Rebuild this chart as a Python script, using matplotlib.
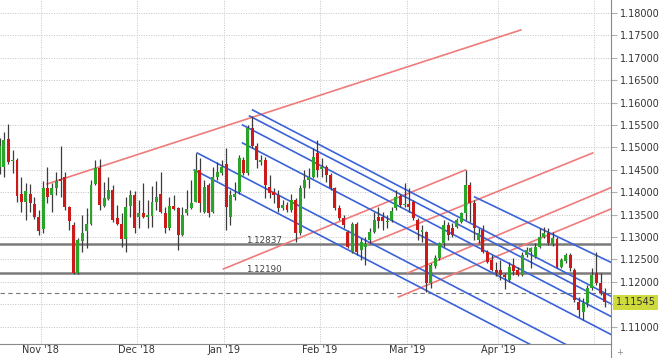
"""
EUR/USD daily candles with hand drawn trend channels
"""

import numpy as np
import pandas as pd
import matplotlib
matplotlib.use('Agg')
import matplotlib.pyplot as plt
import matplotlib.transforms as mtransforms
from matplotlib.lines import Line2D

# trading days shown on the chart (christmas and new year skipped)
days = pd.bdate_range('2018-10-18', '2019-05-03')
days = days[~days.isin(pd.to_datetime(['2018-12-25', '2019-01-01']))]

opens = [1.1457, 1.1457, 1.1518, 1.1470, 1.1472, 1.1397, 1.1377, 1.1397, 1.1374, 1.1345,
         1.1317, 1.1409, 1.1394, 1.1410, 1.1429, 1.1433, 1.1367, 1.1326, 1.1219, 1.1292,
         1.1314, 1.1330, 1.1418, 1.1453, 1.1369, 1.1384, 1.1405, 1.1342, 1.1329, 1.1295,
         1.1369, 1.1394, 1.1345, 1.1354, 1.1344, 1.1347, 1.1379, 1.1396, 1.1353, 1.1319,
         1.1369, 1.1364, 1.1304, 1.1353, 1.1364, 1.1379, 1.1450, 1.1356, 1.1416, 1.1356,
         1.1433, 1.1442, 1.1462, 1.1345, 1.1390, 1.1401, 1.1472, 1.1442, 1.1543, 1.1502,
         1.1468, 1.1472, 1.1412, 1.1401, 1.1394, 1.1364, 1.1371, 1.1360, 1.1383, 1.1308,
         1.1409, 1.1427, 1.1435, 1.1487, 1.1451, 1.1457, 1.1438, 1.1409, 1.1364, 1.1342,
         1.1312, 1.1267, 1.1330, 1.1271, 1.1278, 1.1293, 1.1312, 1.1344, 1.1344, 1.1334,
         1.1338, 1.1364, 1.1392, 1.1371, 1.1374, 1.1379, 1.1339, 1.1311, 1.1312, 1.1197,
         1.1236, 1.1253, 1.1286, 1.1327, 1.1320, 1.1323, 1.1334, 1.1353, 1.1416, 1.1375,
         1.1293, 1.1316, 1.1267, 1.1249, 1.1226, 1.1226, 1.1215, 1.1204, 1.1238, 1.1226,
         1.1215, 1.1260, 1.1267, 1.1256, 1.1278, 1.1301, 1.1308, 1.1284, 1.1295, 1.1234,
         1.1247, 1.1260, 1.1226, 1.1155, 1.1133, 1.1152, 1.1185, 1.1219, 1.1197, 1.1174]
highs = [1.1520, 1.1535, 1.1552, 1.1494, 1.1476, 1.1433, 1.1420, 1.1418, 1.1390, 1.1360,
         1.1425, 1.1457, 1.1420, 1.1446, 1.1502, 1.1446, 1.1369, 1.1334, 1.1297, 1.1349,
         1.1364, 1.1427, 1.1472, 1.1473, 1.1423, 1.1433, 1.1416, 1.1371, 1.1353, 1.1390,
         1.1405, 1.1403, 1.1383, 1.1420, 1.1383, 1.1414, 1.1425, 1.1446, 1.1367, 1.1390,
         1.1394, 1.1366, 1.1367, 1.1405, 1.1427, 1.1487, 1.1476, 1.1427, 1.1420, 1.1457,
         1.1468, 1.1472, 1.1498, 1.1405, 1.1423, 1.1483, 1.1479, 1.1550, 1.1569, 1.1509,
         1.1483, 1.1479, 1.1438, 1.1409, 1.1405, 1.1383, 1.1379, 1.1397, 1.1386, 1.1416,
         1.1450, 1.1453, 1.1498, 1.1517, 1.1476, 1.1461, 1.1442, 1.1412, 1.1371, 1.1349,
         1.1316, 1.1334, 1.1334, 1.1297, 1.1301, 1.1319, 1.1356, 1.1367, 1.1356, 1.1349,
         1.1367, 1.1405, 1.1397, 1.1420, 1.1409, 1.1383, 1.1342, 1.1327, 1.1314, 1.1241,
         1.1260, 1.1289, 1.1338, 1.1334, 1.1331, 1.1342, 1.1356, 1.1450, 1.1423, 1.1383,
         1.1319, 1.1327, 1.1271, 1.1260, 1.1245, 1.1249, 1.1219, 1.1245, 1.1252, 1.1234,
         1.1267, 1.1278, 1.1278, 1.1286, 1.1319, 1.1323, 1.1319, 1.1312, 1.1299, 1.1252,
         1.1264, 1.1264, 1.1230, 1.1167, 1.1163, 1.1193, 1.1230, 1.1267, 1.1219, 1.1185]
lows = [1.1440, 1.1435, 1.1464, 1.1442, 1.1379, 1.1356, 1.1338, 1.1356, 1.1340, 1.1304,
        1.1308, 1.1375, 1.1356, 1.1394, 1.1390, 1.1360, 1.1316, 1.1217, 1.1217, 1.1267,
        1.1275, 1.1327, 1.1416, 1.1360, 1.1367, 1.1383, 1.1334, 1.1327, 1.1278, 1.1267,
        1.1345, 1.1308, 1.1319, 1.1342, 1.1319, 1.1323, 1.1360, 1.1353, 1.1308, 1.1316,
        1.1360, 1.1271, 1.1302, 1.1349, 1.1363, 1.1378, 1.1356, 1.1353, 1.1344, 1.1353,
        1.1427, 1.1438, 1.1316, 1.1327, 1.1383, 1.1397, 1.1438, 1.1438, 1.1498, 1.1453,
        1.1461, 1.1386, 1.1386, 1.1375, 1.1356, 1.1360, 1.1356, 1.1356, 1.1289, 1.1304,
        1.1386, 1.1409, 1.1431, 1.1435, 1.1435, 1.1423, 1.1405, 1.1360, 1.1338, 1.1319,
        1.1275, 1.1264, 1.1260, 1.1249, 1.1238, 1.1286, 1.1308, 1.1319, 1.1316, 1.1319,
        1.1334, 1.1360, 1.1367, 1.1367, 1.1356, 1.1338, 1.1293, 1.1289, 1.1178, 1.1186,
        1.1230, 1.1249, 1.1278, 1.1293, 1.1301, 1.1319, 1.1331, 1.1338, 1.1334, 1.1293,
        1.1286, 1.1264, 1.1241, 1.1223, 1.1212, 1.1204, 1.1183, 1.1200, 1.1215, 1.1212,
        1.1212, 1.1256, 1.1230, 1.1252, 1.1275, 1.1297, 1.1282, 1.1280, 1.1230, 1.1230,
        1.1241, 1.1223, 1.1155, 1.1122, 1.1115, 1.1144, 1.1182, 1.1193, 1.1170, 1.1144]
closes = [1.1502, 1.1517, 1.1468, 1.1472, 1.1392, 1.1377, 1.1403, 1.1375, 1.1345, 1.1314,
          1.1410, 1.1390, 1.1409, 1.1425, 1.1424, 1.1366, 1.1336, 1.1219, 1.1293, 1.1308,
          1.1330, 1.1416, 1.1453, 1.1371, 1.1386, 1.1405, 1.1338, 1.1329, 1.1295, 1.1367,
          1.1394, 1.1319, 1.1354, 1.1345, 1.1349, 1.1379, 1.1389, 1.1356, 1.1319, 1.1369,
          1.1362, 1.1304, 1.1349, 1.1362, 1.1375, 1.1450, 1.1375, 1.1411, 1.1353, 1.1433,
          1.1446, 1.1457, 1.1367, 1.1394, 1.1397, 1.1476, 1.1442, 1.1543, 1.1502, 1.1472,
          1.1472, 1.1416, 1.1398, 1.1394, 1.1364, 1.1371, 1.1360, 1.1383, 1.1308, 1.1409,
          1.1427, 1.1435, 1.1479, 1.1450, 1.1457, 1.1438, 1.1409, 1.1364, 1.1342, 1.1327,
          1.1278, 1.1330, 1.1267, 1.1289, 1.1285, 1.1312, 1.1339, 1.1336, 1.1336, 1.1336,
          1.1359, 1.1390, 1.1371, 1.1374, 1.1368, 1.1342, 1.1316, 1.1316, 1.1197, 1.1238,
          1.1253, 1.1286, 1.1327, 1.1304, 1.1304, 1.1338, 1.1353, 1.1416, 1.1375, 1.1319,
          1.1308, 1.1267, 1.1245, 1.1226, 1.1219, 1.1215, 1.1211, 1.1234, 1.1223, 1.1215,
          1.1260, 1.1271, 1.1275, 1.1278, 1.1301, 1.1308, 1.1286, 1.1297, 1.1234, 1.1249,
          1.1260, 1.1230, 1.1159, 1.1137, 1.1152, 1.1185, 1.1215, 1.1197, 1.1174, 1.1155]

# horizontal levels
levels = [1.12837, 1.12190]
prev_close = 1.1174
last_price = 1.11545

# trend lines as (bar index, price) pairs
red_lines = [((10.9, 1.14183), (119.7, 1.17621)),
             ((51.4, 1.12286), (107.0, 1.14496)),
             ((83.4, 1.12799), (136.2, 1.14875)),
             ((93.7, 1.12196), (141.5, 1.14147)),
             ((91.6, 1.11661), (141.5, 1.13670))]
blue_lines = [((58.1, 1.15835), (141.5, 1.11621)),
              ((57.4, 1.15701), (141.5, 1.11453)),
              ((55.8, 1.15500), (141.5, 1.11170)),
              ((55.8, 1.15098), (141.5, 1.10768)),
              ((45.4, 1.14875), (141.5, 1.10022)),
              ((44.7, 1.14496), (141.5, 1.09609)),
              ((109.1, 1.13893), (141.5, 1.12382))]

price_ticks = np.arange(1.11, 1.18001, 0.005)


if __name__ == '__main__':
    o = np.array(opens)
    h = np.array(highs)
    l = np.array(lows)
    c = np.array(closes)
    idx = np.arange(len(days))

    fig = plt.figure(figsize=(6.6, 3.58), dpi=100)
    ax = fig.add_axes([0.0, 14 / 358, 611 / 660, 344 / 358])

    # month grid lines sit between the last bar of a month and the first of the next
    month_start = np.where(days.month != np.roll(days.month, 1))[0][1:]
    month_pos = month_start - 0.5
    month_lab = [d.strftime("%b '%y") if d.month != 5 else '' for d in days[month_start]]

    for y in price_ticks:
        ax.axhline(y, color='#c4c4c4', lw=0.7, ls=(0, (1, 1.5)), zorder=0)
    for x in month_pos:
        ax.axvline(x, color='#c4c4c4', lw=0.7, ls=(0, (1, 1.5)), zorder=0)

    for lv in levels:
        ax.axhline(lv, color='#7a7a7a', lw=1.8, zorder=1)
        ax.text(56.7, lv + 0.0003, '%.5f' % lv, fontsize=6.3, color='#444444', zorder=5)
    ax.axhline(prev_close, color='#777777', lw=0.8, ls=(0, (4, 3)), zorder=1)

    for (x0, y0), (x1, y1) in red_lines:
        ax.plot([x0, x1], [y0, y1], color='#ef7b7b', lw=1.2, zorder=2)
    for (x0, y0), (x1, y1) in blue_lines:
        ax.plot([x0, x1], [y0, y1], color='#3b63d9', lw=1.2, zorder=2)

    up = c >= o
    body_col = np.where(up, '#2aa52a', '#cc1a1a')
    ax.vlines(idx, l, h, color='#3c3c3c', lw=0.9, zorder=3)
    ax.bar(idx, np.maximum(np.abs(c - o), 0.00008), bottom=np.minimum(o, c),
           width=0.68, color=body_col, zorder=4)

    ax.set_xlim(0.1, 140.4)
    ax.set_ylim(1.10611, 1.18290)

    ax.set_xticks(month_pos)
    ax.set_xticklabels(month_lab)
    ax.yaxis.tick_right()
    ax.set_yticks(price_ticks)
    # the 1.11500 label sits under the last price tag, so it is left blank
    ax.set_yticklabels(['' if abs(t - 1.115) < 1e-6 else '%.5f' % t for t in price_ticks])
    ax.tick_params(axis='y', length=4, color='#b0b0b0', pad=2.5, labelsize=7, labelcolor='#333333')
    ax.tick_params(axis='x', length=0, pad=1, labelsize=7, labelcolor='#333333')

    for s in ['left', 'top']:
        ax.spines[s].set_visible(False)
    ax.spines['right'].set_color('#8a8a8a')
    ax.spines['bottom'].set_color('#8a8a8a')

    # last price tag on the axis
    trans = mtransforms.blended_transform_factory(ax.transAxes, ax.transData)
    ax.text(1.008, last_price, '%.5f' % last_price, transform=trans, fontsize=7,
            color='#333333', va='center', ha='left', clip_on=False, zorder=6,
            bbox=dict(boxstyle='square,pad=0.25', fc='#cfdb3c', ec='none'))

    fig.add_artist(Line2D([611 / 660, 611 / 660], [0, 14 / 358], color='#8a8a8a', lw=0.8))
    fig.text(616 / 660, 3 / 358, '+', fontsize=6, color='#8a8a8a')

    plt.savefig('out.png', dpi=100)
